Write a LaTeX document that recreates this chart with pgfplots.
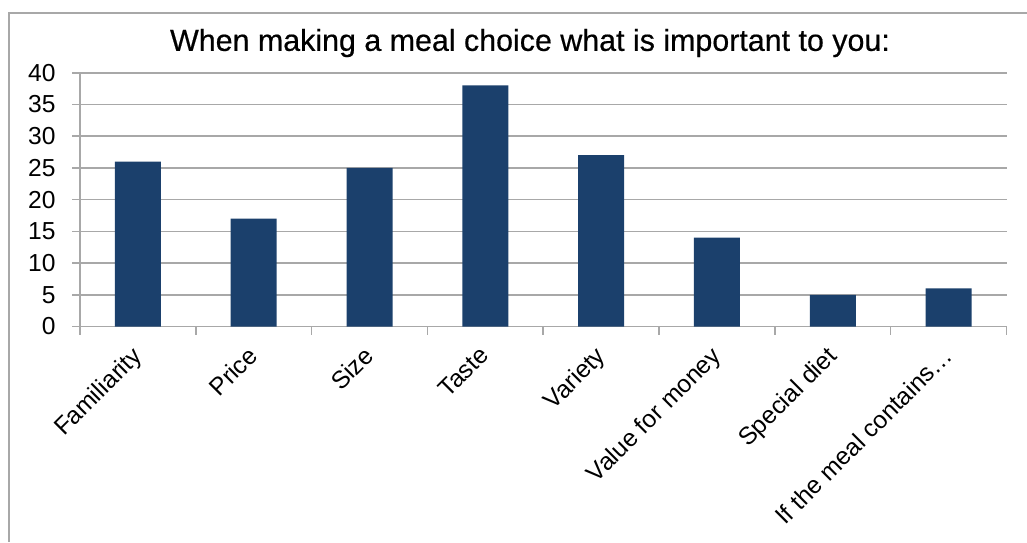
\documentclass[border=0pt]{standalone}
\usepackage{pgfplots}
\pgfplotsset{compat=1.18}
\usepackage{fontspec}
\setmainfont{Liberation Sans}
\newfontfamily\titlefont[FakeBold=0.5]{Liberation Sans}
\definecolor{barblue}{RGB}{27,64,108}
\definecolor{gridgray}{RGB}{168,168,168}
\begin{document}
\begin{tikzpicture}
\useasboundingbox (0,0) rectangle (513.5pt,271pt);
\draw[gridgray, line width=0.9pt] (4.5pt,0) -- (4.5pt,264.5pt) -- (513.5pt,264.5pt);
\node[font=\titlefont\fontsize{15.2}{18}\selectfont, anchor=center] at (265pt,249.5pt) {When making a meal choice what is important to you:};
\begin{axis}[
  at={(40pt,107.75pt)}, anchor=south west,
  scale only axis, width=463.25pt, height=126.9pt,
  xmin=0, xmax=8, ymin=0, ymax=40,
  ytick={0,5,10,15,20,25,30,35,40},
  xtick={0.5,1.5,2.5,3.5,4.5,5.5,6.5,7.5},
  xticklabels={{Familiarity},{Price},{Size},{Taste},{Variety},{Value for money},{Special diet},{If the meal contains\ldots}},
  minor xtick={0,1,2,3,4,5,6,7,8},
  major x tick style={draw=none},
  tick align=outside,
  major tick length=4pt, minor tick length=4pt,
  every tick/.style={gridgray, line width=0.8pt},
  ymajorgrids, grid style={gridgray, line width=0.8pt},
  axis line style={gridgray, line width=0.8pt},
  axis x line*=bottom, axis y line*=left,
  ticklabel style={font=\fontsize{12.3}{14}\selectfont},
  /pgf/number format/assume math mode=true,
  xticklabel style={rotate=45, anchor=north east, inner sep=1pt, xshift=-5.1pt},
  yticklabel style={inner sep=1pt, xshift=-7pt},
  separate axis lines,
]
\addplot[ybar, bar width=23pt, fill=barblue, draw=none] coordinates {
(0.5,26) (1.5,17) (2.5,25) (3.5,38) (4.5,27) (5.5,14) (6.5,5) (7.5,6)};
\end{axis}
\end{tikzpicture}
\end{document}
